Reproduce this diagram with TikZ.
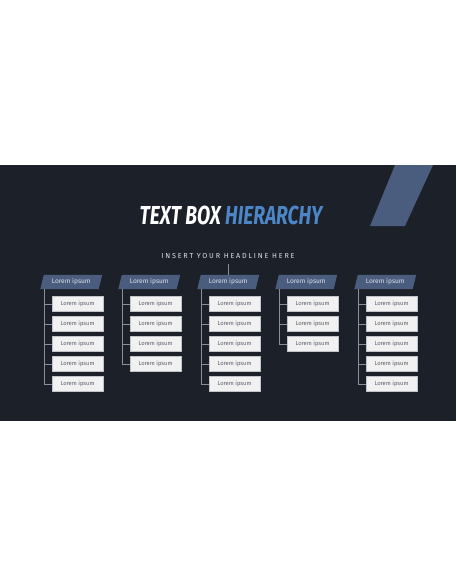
\documentclass[tikz,border=0pt]{standalone}
\usepackage{fontspec}
\setmainfont{Fira Sans}
\usetikzlibrary{backgrounds}
\definecolor{bgdark}{HTML}{1B2029}
\definecolor{headfill}{HTML}{4B5D7E}
\definecolor{titleblue}{HTML}{4D86C6}
\definecolor{boxfill}{HTML}{F1F1F2}
\definecolor{boxline}{HTML}{BFC3C8}
\definecolor{linegray}{HTML}{8A9099}
\definecolor{boxtext}{HTML}{5A5E66}
\definecolor{headtext}{HTML}{DDE2EA}
\tikzset{
  headbox/.style={minimum width=58pt, minimum height=14pt, inner sep=0pt,
    text=headtext, font=\fontsize{6.6}{7}\selectfont},
  subbox/.style={fill=boxfill, draw=boxline, line width=0.4pt, minimum width=51pt,
    minimum height=15pt, inner sep=0pt, text=boxtext, font=\fontsize{5.8}{6}\selectfont},
  conn/.style={draw=linegray, line width=0.5pt},
}
\begin{document}
\begin{tikzpicture}[x=1pt,y=-1pt]
\useasboundingbox (0,0) rectangle (456,586);
\begin{pgfonlayer}{background}
\fill[white] (0,0) rectangle (456,586);
\fill[bgdark] (0,165) rectangle (456,421);
\end{pgfonlayer}
% slanted stripe
\fill[headfill] (395,165) -- (433,165) -- (405,226) -- (370,226) -- cycle;
% title
\node[anchor=base, inner sep=0pt] (title) at (231,224)
  {\scalebox{0.77}[1.04]{\fontsize{25}{28}\selectfont\bfseries\itshape
   \textcolor{white}{TEXT BOX} \textcolor{titleblue}{HIERARCHY}}};
% headline
\node[anchor=base, inner sep=0pt, text=headtext] (headline) at (228,258)
  {\fontsize{7.2}{8}\selectfont\addfontfeature{LetterSpace=25}INSERT YOUR HEADLINE HERE};
% columns
\foreach \c/\L/\n in {1/44/5, 2/122/4, 3/201/5, 4/279/3, 5/358/5}{
  \node[headbox] (h\c) at (\L+27.25,282) {Lorem ipsum};
  \begin{pgfonlayer}{background}
    \fill[headfill] ([xshift=1.75pt]h\c.north west) -- ([xshift=1.75pt]h\c.north east)
      -- ([xshift=-1.75pt]h\c.south east) -- ([xshift=-1.75pt]h\c.south west) -- cycle;
  \end{pgfonlayer}
  \coordinate (t\c) at ([xshift=1.75pt]h\c.south west);
  \foreach \k in {1,...,\n}{
    \node[subbox] (b\c-\k) at (\L+33.5,284+20*\k) {Lorem ipsum};
    \draw[conn] (t\c |- b\c-\k.west) -- (b\c-\k.west);
  }
  \draw[conn] (t\c) -- (t\c |- b\c-\n.west);
}
\draw[conn] (headline.south |- 0,264) -- (headline.south |- h3.north);
\end{tikzpicture}
\end{document}
